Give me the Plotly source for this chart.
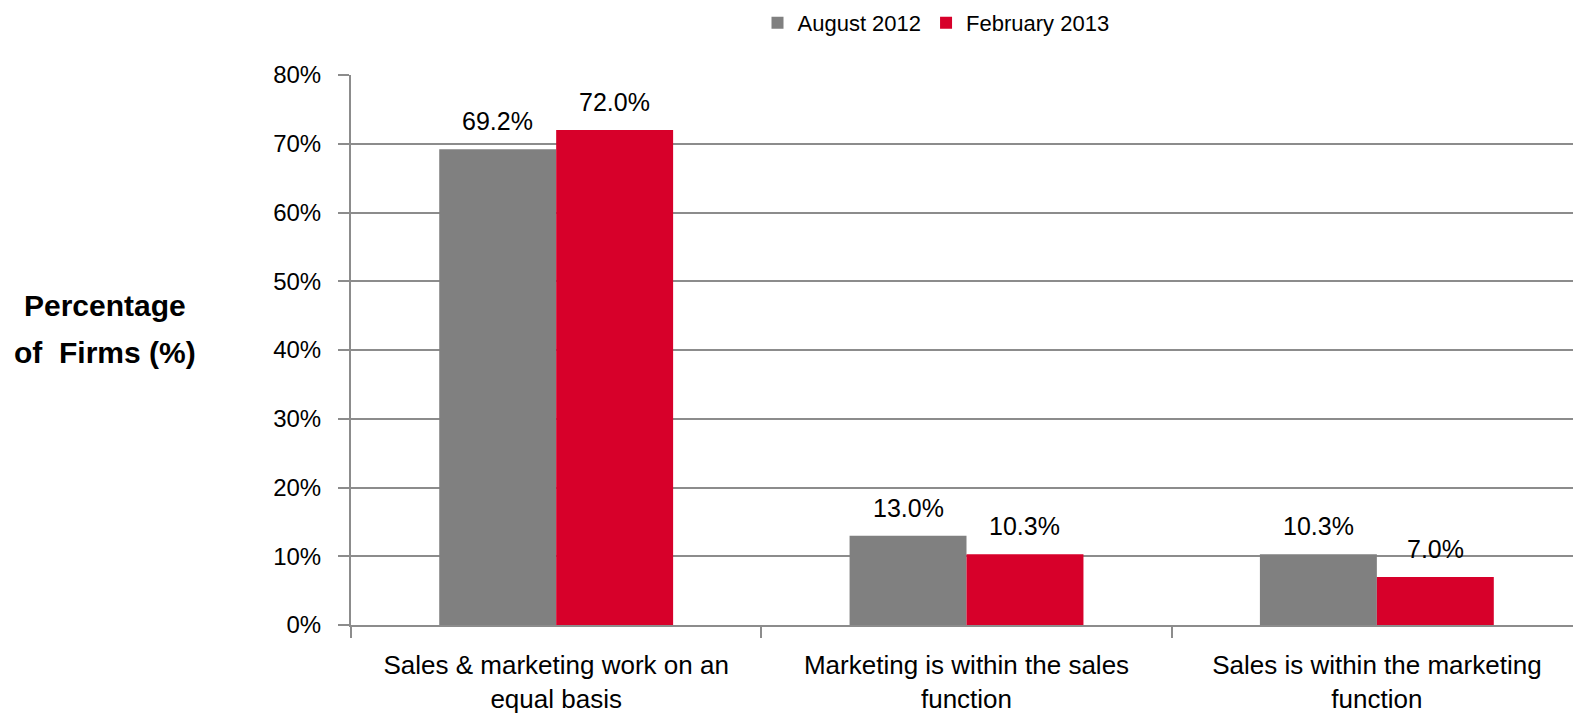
import plotly.graph_objects as go

# Survey results: how sales and marketing are organised
categories = [
    "Sales & marketing work on an<br>equal basis",
    "Marketing is within the sales<br>function",
    "Sales is within the marketing<br>function",
]
series_names = ["August 2012", "February 2013"]
aug_2012 = [69.2, 13.0, 10.3]
feb_2013 = [72.0, 10.3, 7.0]
y_ticks = [0, 10, 20, 30, 40, 50, 60, 70, 80]

W, H = 1573, 717
M_L, M_R, M_T, M_B = 351, 0, 75, 92
BARGAP = 0.43
X_RANGE = [-0.5, 2.478]

GRAY = "#808080"
RED = "#D7002A"
GRID = "#8C8C8C"
FONT = "Liberation Sans, Arial, sans-serif"

fig = go.Figure()
for name, vals, col in [(series_names[0], aug_2012, GRAY), (series_names[1], feb_2013, RED)]:
    fig.add_trace(go.Bar(
        name=name, x=categories, y=vals,
        marker=dict(color=col, line=dict(width=0)),
        hoverinfo="skip",
    ))

# value labels above each bar, centred on the bar
plot_w = W - M_L - M_R
px_per_cat = plot_w / (X_RANGE[1] - X_RANGE[0])
bar_px = (1 - BARGAP) * px_per_cat / 2
annotations = []
for k, vals in enumerate([aug_2012, feb_2013]):
    shift = (k - 0.5) * bar_px
    for i, v in enumerate(vals):
        annotations.append(dict(
            x=i, y=v, xref="x", yref="y", text=f"{v:.1f}%",
            showarrow=False, xshift=shift, yshift=12, yanchor="bottom",
            font=dict(size=25, color="#000", family=FONT),
        ))

# y-axis title, two lines
plot_h = H - M_T - M_B
for txt, ypx in [("Percentage", 305), ("of\u00a0\u00a0Firms (%)", 352)]:
    annotations.append(dict(
        x=(105 - M_L) / plot_w, y=(H - M_B - ypx) / plot_h,
        xref="paper", yref="paper", text=f"<b>{txt}</b>", showarrow=False,
        xanchor="center", yanchor="middle",
        font=dict(size=30, color="#000", family=FONT),
    ))

fig.update_layout(
    width=W, height=H,
    margin=dict(l=M_L, r=M_R, t=M_T, b=M_B, pad=0),
    paper_bgcolor="white", plot_bgcolor="white",
    barmode="group", bargap=BARGAP, bargroupgap=0,
    font=dict(family=FONT, color="#000"),
    showlegend=True,
    legend=dict(
        orientation="h", xref="container", yref="container",
        x=936 / W, xanchor="center", y=1 - 23 / H, yanchor="middle",
        font=dict(size=22, family=FONT), itemwidth=30, traceorder="normal",
        bgcolor="rgba(0,0,0,0)",
    ),
    annotations=annotations,
)

fig.update_xaxes(
    range=X_RANGE, showgrid=False, zeroline=False,
    showline=True, linecolor=GRID, linewidth=2,
    ticks="outside", tickson="boundaries", ticklen=11, tickwidth=2, tickcolor=GRID,
    ticklabelstandoff=16,
    tickfont=dict(size=26, family=FONT, color="#000"),
)
fig.update_yaxes(
    range=[0, 80], tickvals=y_ticks, ticktext=[f"{t}%" for t in y_ticks],
    showgrid=True, gridcolor=GRID, gridwidth=2, zeroline=False,
    showline=True, linecolor=GRID, linewidth=2,
    ticks="outside", ticklen=11, tickwidth=2, tickcolor=GRID,
    ticklabelstandoff=12,
    tickfont=dict(size=24, family=FONT, color="#000"),
)

fig.write_html("out.html")
